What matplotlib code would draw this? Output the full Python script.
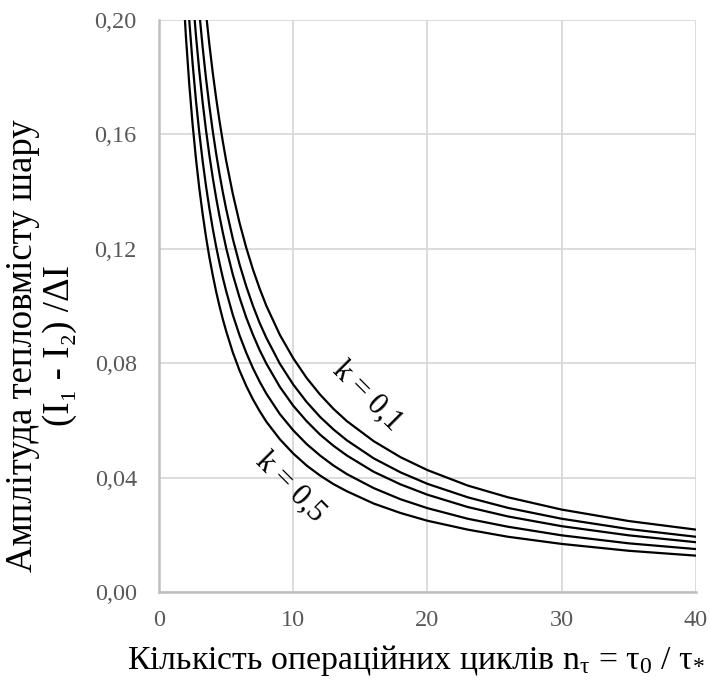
import numpy as np
import matplotlib
matplotlib.use("Agg")
import matplotlib.pyplot as plt

plt.rcParams['font.family'] = ['Liberation Serif', 'DejaVu Serif']
plt.rcParams['mathtext.fontset'] = 'custom'
plt.rcParams['mathtext.rm'] = 'Liberation Serif'
plt.rcParams['mathtext.it'] = 'Liberation Serif'
plt.rcParams['mathtext.default'] = 'regular'

## values (5 curves, k = 0.1 ... 0.5 from top to bottom)
n_tau = [1.5, 1.75, 2, 2.25, 2.5, 2.75, 3, 3.25, 3.5, 3.75, 4, 4.25, 4.5, 4.75, 5, 5.5,
         6, 6.5, 7, 7.5, 8, 9, 10, 11, 12, 13, 14, 16, 18, 20, 23, 26, 30, 35, 40]
amp_k01 = [0.3708, 0.3358, 0.3069, 0.2825, 0.2618, 0.2438, 0.2282, 0.2145, 0.2023, 0.1914,
           0.1816, 0.1728, 0.1648, 0.1575, 0.1508, 0.1391, 0.1290, 0.1203, 0.1127, 0.1060,
           0.1000, 0.0899, 0.0817, 0.0748, 0.0690, 0.0640, 0.0597, 0.0527, 0.0471, 0.0426,
           0.0372, 0.0331, 0.0288, 0.0248, 0.0218]
amp_k02 = [0.3292, 0.2981, 0.2724, 0.2508, 0.2324, 0.2164, 0.2026, 0.1904, 0.1795, 0.1699,
           0.1612, 0.1534, 0.1463, 0.1398, 0.1339, 0.1234, 0.1145, 0.1068, 0.1000, 0.0940,
           0.0888, 0.0798, 0.0725, 0.0664, 0.0612, 0.0568, 0.0530, 0.0467, 0.0418, 0.0378,
           0.0331, 0.0294, 0.0256, 0.0220, 0.0193]
amp_k03 = [0.2958, 0.2679, 0.2448, 0.2254, 0.2088, 0.1945, 0.1821, 0.1711, 0.1614, 0.1527,
           0.1449, 0.1379, 0.1315, 0.1257, 0.1203, 0.1109, 0.1029, 0.0959, 0.0899, 0.0845,
           0.0798, 0.0717, 0.0651, 0.0597, 0.0550, 0.0511, 0.0477, 0.0420, 0.0376, 0.0340,
           0.0297, 0.0264, 0.0230, 0.0198, 0.0174]
amp_k04 = [0.2652, 0.2392, 0.2179, 0.2000, 0.1848, 0.1718, 0.1605, 0.1506, 0.1419, 0.1341,
           0.1271, 0.1208, 0.1151, 0.1099, 0.1052, 0.0968, 0.0897, 0.0836, 0.0782, 0.0735,
           0.0693, 0.0622, 0.0565, 0.0517, 0.0477, 0.0442, 0.0412, 0.0363, 0.0324, 0.0293,
           0.0256, 0.0228, 0.0198, 0.0170, 0.0150]
amp_k05 = [0.2395, 0.2146, 0.1943, 0.1776, 0.1635, 0.1515, 0.1411, 0.1321, 0.1241, 0.1170,
           0.1108, 0.1051, 0.1000, 0.0954, 0.0912, 0.0837, 0.0774, 0.0720, 0.0673, 0.0632,
           0.0595, 0.0534, 0.0484, 0.0442, 0.0407, 0.0377, 0.0352, 0.0309, 0.0276, 0.0249,
           0.0218, 0.0193, 0.0168, 0.0144, 0.0127]

x_ticks = [0, 10, 20, 30, 40]
y_ticks = [0.00, 0.04, 0.08, 0.12, 0.16, 0.20]
y_ticklabels = ['0,00', '0,04', '0,08', '0,12', '0,16', '0,20']

fig = plt.figure(figsize=(7.10, 6.82), dpi=100)
ax = fig.add_axes([0.224, 0.132, 0.756, 0.839])

for amp in [amp_k01, amp_k02, amp_k03, amp_k04, amp_k05]:
    ax.plot(n_tau, amp, color='black', lw=1.6, zorder=3, solid_joinstyle='round')

ax.set_xlim(0, 40)
ax.set_ylim(0, 0.20)
ax.set_xticks(x_ticks)
ax.set_yticks(y_ticks)
ax.set_yticklabels(y_ticklabels)
ax.tick_params(length=0, labelsize=17.5, labelcolor='#595959')
ax.tick_params(axis='y', pad=16)
ax.tick_params(axis='x', pad=13)

ax.grid(True, color='#d9d9d9', lw=1.3, zorder=0)
ax.set_axisbelow(True)
for s in ['top', 'right']:
    ax.spines[s].set_visible(False)
for s in ['left', 'bottom']:
    ax.spines[s].set_color('#bfbfbf')
    ax.spines[s].set_linewidth(1.8)

fig.text(0.586, 0.032, 'Кількість операційних циклів n$_{τ}$ = τ$_{0}$ / τ$_{*}$',
         fontsize=24.3, ha='center', va='center')
fig.text(0.058, 0.493, 'Амплітуда тепловмісту шару\n(I\u2081 - I\u2082) /ΔI',
         fontsize=26.5, rotation=90, ha='center', va='center', linespacing=1.12,
         multialignment='center')

ax.text(15.5, 0.0685, 'k = 0,1', fontsize=22, rotation=-45, ha='center', va='center')
ax.text(9.8, 0.0365, 'k = 0,5', fontsize=22, rotation=-45, ha='center', va='center')

plt.savefig('out.png', dpi=100)
